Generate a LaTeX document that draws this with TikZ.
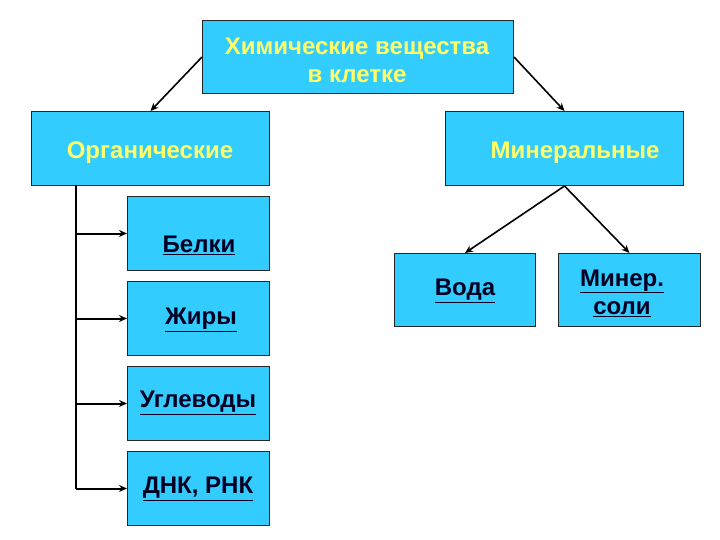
\documentclass[tikz,border=0pt]{standalone}
\usepackage{fontspec}
\setmainfont{Liberation Sans}
\usetikzlibrary{arrows.meta}
\definecolor{boxfill}{HTML}{33CCFF}
\definecolor{ytext}{HTML}{FFFF66}
\definecolor{dtext}{HTML}{000022}
\tikzset{
  box/.style={draw=black!85, line width=1pt, fill=boxfill, anchor=north west, inner sep=0pt},
  ylab/.style={text=ytext, font=\bfseries\fontsize{24}{28}\selectfont, align=center, inner sep=0pt},
  dlab/.style={text=dtext, font=\bfseries\fontsize{24}{28}\selectfont, align=center, inner sep=0pt},
  arr/.style={-{Stealth[length=8pt,width=7pt]}, line width=1.6pt},
  harr/.style={-{Stealth[length=8pt,width=7pt]}, line width=2pt},
  plain/.style={line width=1.8pt},
}
\begin{document}
\begin{tikzpicture}[x=1pt,y=-1pt]
\useasboundingbox (0,0) rectangle (720,540);
% boxes
\node[box, minimum width=311pt, minimum height=73pt] (top) at (202,20) {};
\node[box, minimum width=238pt, minimum height=74pt] (org) at (31,111) {};
\node[box, minimum width=238pt, minimum height=74pt] (min) at (445,111) {};
\node[box, minimum width=142pt, minimum height=74pt] (belki) at (127,196) {};
\node[box, minimum width=142pt, minimum height=74pt] (zhiry) at (127,281) {};
\node[box, minimum width=142pt, minimum height=74pt] (ugl) at (127,366) {};
\node[box, minimum width=142pt, minimum height=74pt] (dnk) at (127,451) {};
\node[box, minimum width=141pt, minimum height=73pt] (voda) at (394,253) {};
\node[box, minimum width=142pt, minimum height=73pt] (minsol) at (558,253) {};
% texts
\node[ylab] (ttop) at (357,60) {Химические вещества\\в клетке};
\node[ylab] (torg) at (150,153) {Органические};
\node[ylab] (tmin) at (575,153) {Минеральные};
\node[dlab] (tbelki) at (199,245) {\underline{Белки}};
\node[dlab] (tzhiry) at (201,320) {\underline{Жиры}};
\node[dlab] (tugl) at (198,403) {\underline{Углеводы}};
\node[dlab] (tdnk) at (198,489) {\underline{ДНК, РНК}};
\node[dlab] (tvoda) at (465,291) {\underline{Вода}};
\node[dlab] (tminsol) at (622,293) {\underline{Минер.}\\\underline{соли}};
% connectors
\draw[arr] (top.west) -- (org.north);
\draw[arr] (top.east) -- (min.north);
\draw[arr] (min.south) -- (voda.north);
\draw[arr] (min.south) -- (minsol.north);
\coordinate (v0) at (76,185);
\draw[plain] (v0) -- (v0 |- dnk.west);
\draw[harr] (v0 |- belki.west) -- (belki.west);
\draw[harr] (v0 |- zhiry.west) -- (zhiry.west);
\draw[harr] (v0 |- ugl.west) -- (ugl.west);
\draw[harr] (v0 |- dnk.west) -- (dnk.west);
\end{tikzpicture}
\end{document}
